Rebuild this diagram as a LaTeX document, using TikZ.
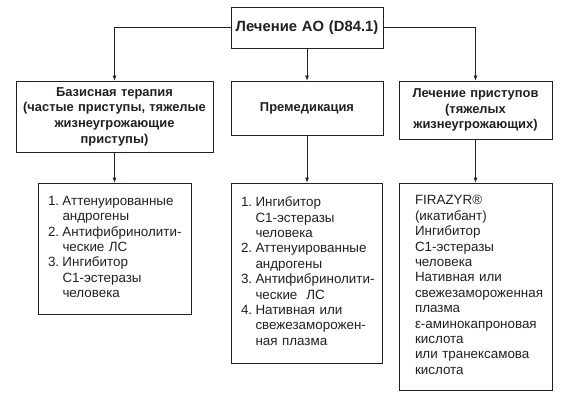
\documentclass[tikz,border=0pt]{standalone}
\usepackage{fontspec}
\setmainfont{Liberation Sans}
\usetikzlibrary{arrows.meta}
\definecolor{ink}{HTML}{231F20}
\newcommand{\nm}[1]{\makebox[14.5pt][l]{#1}}
\begin{document}
\begin{tikzpicture}[x=1pt,y=-1pt,
  box/.style={draw=ink, line width=0.8pt, inner ysep=0pt, rectangle, text=ink},
  head/.style={box, inner xsep=0pt, align=center, font=\bfseries\fontsize{12.9}{15.7}\selectfont},
  list/.style={box, inner xsep=10pt, align=left, font=\fontsize{13.4}{15.4}\selectfont},
  conn/.style={draw=ink, line width=0.8pt, -{Latex[length=5pt,width=4pt]}}]
\useasboundingbox (0,0) rectangle (575,402);

\node[head, font=\bfseries\fontsize{14.8}{16}\selectfont, minimum width=152pt, minimum height=41pt, text width=152pt] (top) at (307,27.5) {Лечение АО (D84.1)};

\node[head, minimum width=197pt, minimum height=71pt, text width=197pt] (ul) at (114.5,116.5)
  {Базисная терапия\\(частые приступы, тяжелые\\жизнеугрожающие\\приступы)};
\node[head, minimum width=152pt, minimum height=54pt, text width=152pt] (um) at (307,108) {Премедикация};
\node[head, minimum width=153pt, minimum height=58pt, text width=153pt] (ur) at (475.5,110)
  {Лечение приступов\\(тяжелых\\жизнеугрожающих)};

\node[list, minimum width=153pt, minimum height=131pt, text width=133pt] (ll) at (114.5,248.5)
  {\begin{tabular}[t]{@{}l@{}l@{}}
   \nm{1.}&Аттенуированные\\&андрогены\\
   \nm{2.}&Антифибринолити-\\&ческие ЛС\\
   \nm{3.}&Ингибитор\\&С1-эстеразы\\&человека
   \end{tabular}};
\node[list, minimum width=151pt, minimum height=180pt, text width=131pt] (lm) at (306.5,273)
  {\begin{tabular}[t]{@{}l@{}l@{}}
   \nm{1.}&Ингибитор\\&С1-эстеразы\\&человека\\
   \nm{2.}&Аттенуированные\\&андрогены\\
   \nm{3.}&Антифибринолити-\\&ческие\ \ ЛС\\
   \nm{4.}&Нативная или\\&свежезаморожен-\\&ная плазма
   \end{tabular}};
\node[list, minimum width=153pt, minimum height=207pt, text width=133pt] (lr) at (475.5,286.5)
  {\hspace*{6pt}\begin{tabular}[t]{@{}l@{}}
   FIRAZYR®\\(икатибант)\\Ингибитор\\С1-эстеразы\\человека\\Нативная или\\свежезамороженная\\плазма\\ε-аминокапроновая\\кислота\\или транексамова\\кислота
   \end{tabular}};

\draw[conn] (top.west) -| (ul.north);
\draw[conn] (top.east) -| (ur.north);
\draw[conn] (top.south) -- (um.north);
\draw[conn] (ul.south) -- (ll.north);
\draw[conn] (um.south) -- (um.south |- lm.north);
\draw[conn] (ur.south) -- (lr.north);
\end{tikzpicture}
\end{document}
